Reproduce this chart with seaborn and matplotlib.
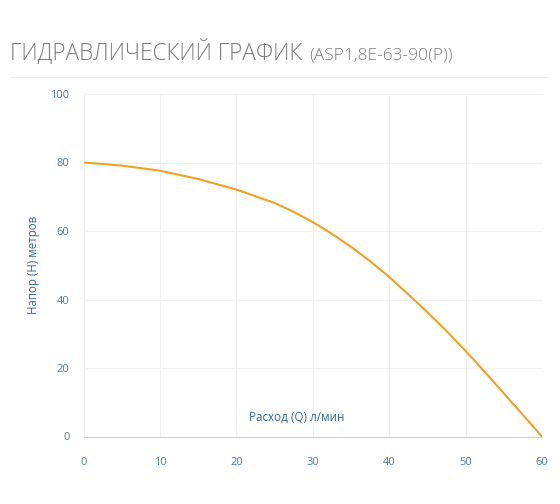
import matplotlib
matplotlib.use('Agg')
import matplotlib.pyplot as plt
import seaborn as sns
import pandas as pd

# ── Data ─────────────────────────────────────────────────────────────────────
flow = [0, 5, 10, 15, 20, 25, 27.5, 30, 32.5, 35, 37.5, 40, 42.5,
        45, 47.5, 50, 52.5, 55, 57.5, 60]
head = [80.0, 79.1, 77.6, 75.2, 72.1, 68.2, 65.6, 62.6, 59.2, 55.4, 51.2, 46.6, 41.5,
        36.3, 30.8, 25.0, 18.9, 12.6, 6.3, 0.0]
x_ticks = [0, 10, 20, 30, 40, 50, 60]
y_ticks = [0, 20, 40, 60, 80, 100]

title_main = 'ГИДРАВЛИЧЕСКИЙ ГРАФИК'
title_model = '(ASP1,8E-63-90(P))'
x_label = 'Расход (Q) л/мин'
y_label = 'Напор (Н) метров'

df = pd.DataFrame({'Q': flow, 'H': head})

# ── Style ─────────────────────────────────────────────────────────────────────
sns.set_style('white')
plt.rcParams['font.family'] = ['Open Sans', 'DejaVu Sans']

label_col = '#2f6a92'
tick_col = '#4d7c9c'

fig = plt.figure(figsize=(5.6, 5.04), dpi=100)
ax = fig.add_axes([83.5 / 560, 1 - 436.5 / 504, 458.5 / 560, 342.5 / 504])

sns.lineplot(data=df, x='Q', y='H', color='#f0a024', linewidth=1.5, ax=ax)

ax.set_xlim(0, 60)
ax.set_ylim(0, 100)
ax.set_xticks(x_ticks)
ax.set_yticks(y_ticks)
ax.grid(True, color='#f1f1f1', linewidth=0.8)
ax.set_axisbelow(True)

for side in ['top', 'right', 'left']:
    ax.spines[side].set_visible(False)
ax.spines['bottom'].set_color('#cfd4d8')
ax.spines['bottom'].set_linewidth(0.8)

ax.tick_params(axis='x', direction='out', length=7, width=0.8, color='#cfd4d8',
               labelsize=8, labelcolor=tick_col, pad=8)
ax.tick_params(axis='y', length=0, labelsize=8, labelcolor=tick_col, pad=10)
ax.set_xlabel('')
ax.set_ylabel('')

# axis titles
ax.text(0.466, 0.036, x_label, transform=ax.transAxes, ha='center', va='bottom',
        fontsize=8.4, color=label_col)
fig.text(33 / 560, 1 - 265 / 504, y_label, rotation=90, ha='center', va='center',
         fontsize=8.3, color=label_col)

# header
fig.text(10 / 560, 1 - 59 / 504, title_main, fontsize=16.3, color='#7c7c7c',
         fontweight='light', ha='left', va='baseline')
fig.text(309 / 560, 1 - 59 / 504, title_model, fontsize=12.5, color='#7c7c7c',
         fontweight='light', ha='left', va='baseline')
fig.add_artist(plt.Line2D([10 / 560, 548 / 560], [1 - 77 / 504, 1 - 77 / 504],
                          color='#eeeeee', linewidth=0.8, transform=fig.transFigure))

fig.savefig('out.png', dpi=100)
